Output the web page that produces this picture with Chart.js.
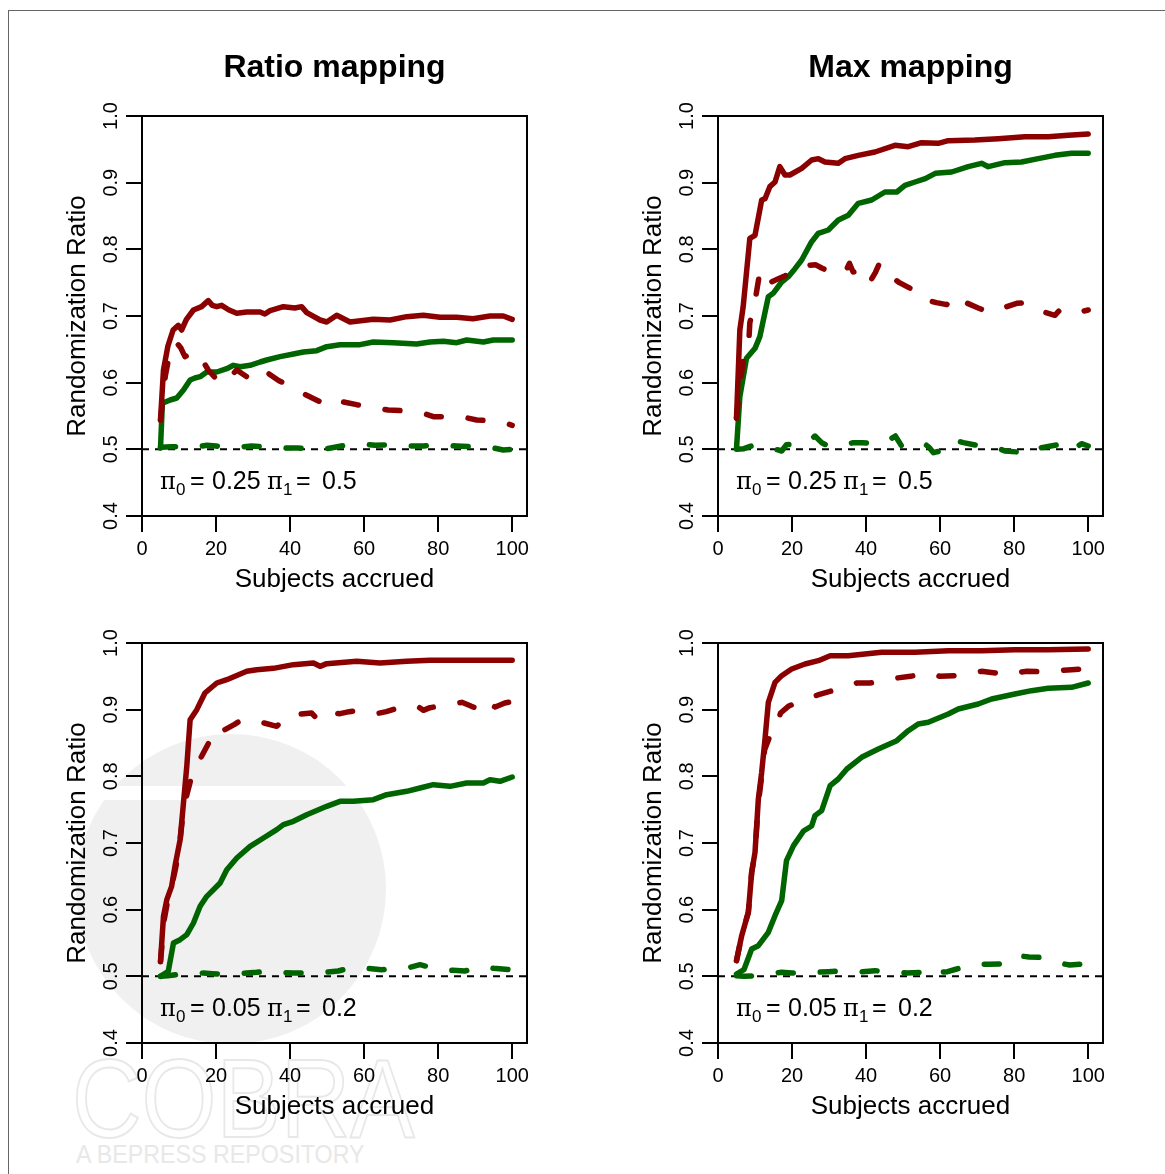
<!DOCTYPE html>
<html>
<head>
<meta charset="utf-8">
<script src="https://cdn.jsdelivr.net/npm/chart.js@4.4.1/dist/chart.umd.min.js"></script>
<style>
html,body{margin:0;padding:0;background:#fff;}
#stage{position:relative;width:1165px;height:1174px;overflow:hidden;background:#fff;}
.frame{position:absolute;left:8px;top:10px;width:1200px;height:1200px;border-top:1px solid #666;border-left:1px solid #666;}
.wm-disk{position:absolute;left:76px;top:734px;width:310px;height:310px;border-radius:50%;background:#f0f0f0;}
.wm-band{position:absolute;left:60px;top:786px;width:340px;height:14px;background:#fff;}
.wm-cobra{position:absolute;left:72px;top:1034px;font:112px 'Liberation Sans',Arial,sans-serif;color:transparent;-webkit-text-stroke:2px #e8e8e8;white-space:nowrap;transform-origin:0 0;transform:scaleX(0.86);}
.wm-sub{position:absolute;left:76px;top:1140px;font:25px 'Liberation Sans',Arial,sans-serif;color:#e8e8e8;white-space:nowrap;transform-origin:0 0;transform:scaleX(0.93);}
canvas{position:absolute;}
</style>
</head>
<body>
<div id="stage">
  <div class="frame"></div>
  <div class="wm-disk"></div>
  <div class="wm-band"></div>
  <div class="wm-cobra">COBRA</div>
  <div class="wm-sub">A BEPRESS REPOSITORY</div>
  <canvas id="c0"></canvas>
  <canvas id="c1"></canvas>
  <canvas id="c2"></canvas>
  <canvas id="c3"></canvas>
</div>
<script>
// ---------------- data ----------------
const xTicks = [0, 20, 40, 60, 80, 100];
const yTicks = [0.4, 0.5, 0.6, 0.7, 0.8, 0.9, 1.0];
const xRange = [0, 104];
const yRange = [0.4, 1.0];
const refLevel = 0.5;
const panelTitles = ['Ratio mapping', 'Max mapping'];
const pi0Values = ['0.25', '0.05'];
const pi1Values = ['0.5', '0.2'];
const xLabel = 'Subjects accrued';
const yLabel = 'Randomization Ratio';

// Ratio mapping, pi0 = 0.25, pi1 = 0.5
const ratio25_redSolid = [[5,0.544],[5.8,0.619],[7,0.655],[8.4,0.679],[9.8,0.686],[10.7,0.679],[12,0.695],[13.9,0.709],[16.1,0.714],[17.9,0.723],[19,0.716],[20.2,0.714],[21.5,0.716],[23.5,0.709],[25.6,0.704],[28.3,0.706],[31.9,0.706],[33.2,0.703],[34.6,0.708],[38.2,0.714],[41.3,0.712],[43.1,0.714],[44.5,0.705],[48.1,0.694],[49.9,0.691],[52.6,0.701],[56.2,0.691],[62.5,0.695],[67,0.694],[71.5,0.699],[76,0.701],[80.5,0.698],[85,0.698],[89.4,0.696],[94,0.700],[97.6,0.700],[100,0.695]];
const ratio25_redDash = [[5,0.544],[6.3,0.61],[7.5,0.645],[9.2,0.661],[10.5,0.652],[11.6,0.639],[13,0.643],[14.8,0.646],[16.5,0.632],[17.9,0.619],[20,0.606],[22.4,0.599],[24,0.61],[25.6,0.619],[28,0.61],[30.5,0.601],[32.5,0.608],[34.1,0.614],[37,0.603],[40.4,0.594],[44.5,0.581],[47.5,0.573],[50.3,0.565],[52,0.571],[54.4,0.571],[58,0.567],[61.1,0.564],[66.5,0.559],[70,0.558],[73.7,0.556],[76,0.554],[78.7,0.549],[82,0.549],[85.4,0.549],[88,0.547],[90.4,0.544],[94,0.543],[97.2,0.541],[100,0.536]];
const ratio25_greenSolid = [[5,0.502],[5.5,0.569],[7.6,0.574],[9.4,0.577],[11.2,0.589],[13,0.604],[14.3,0.607],[15.7,0.609],[17.5,0.616],[20.2,0.616],[22.9,0.621],[24.7,0.626],[26.5,0.624],[29.2,0.626],[31.9,0.631],[33.7,0.634],[37.3,0.639],[40.9,0.643],[43.6,0.646],[47.2,0.648],[49.9,0.654],[53.5,0.657],[58.9,0.657],[62.5,0.661],[67.9,0.660],[74.2,0.658],[77.8,0.661],[81.4,0.662],[85,0.660],[87.7,0.664],[92.2,0.661],[94.9,0.664],[100,0.664]];
const ratio25_greenDash = [[5,0.503],[8,0.504],[11,0.504],[14,0.503],[17.5,0.506],[20,0.505],[22.9,0.503],[26,0.503],[29.6,0.505],[33,0.504],[35.5,0.504],[39,0.502],[42.2,0.502],[45,0.501],[48.1,0.499],[51,0.502],[54.8,0.506],[57,0.508],[59.8,0.508],[63,0.506],[67,0.507],[70,0.506],[72.4,0.505],[76,0.505],[79.1,0.507],[82,0.506],[85,0.505],[89,0.504],[92.2,0.504],[95,0.502],[97.6,0.499],[100,0.5]];

// Max mapping, pi0 = 0.25, pi1 = 0.5
const max25_redSolid = [[5,0.547],[5.9,0.679],[6.8,0.714],[8.6,0.8165],[10,0.821],[11.8,0.874],[12.7,0.876],[14,0.894],[15.4,0.901],[16.7,0.924],[18.1,0.9115],[19.4,0.9115],[22.6,0.9215],[25.3,0.934],[27.1,0.936],[28.9,0.931],[32.5,0.929],[34.3,0.936],[37.9,0.941],[42.4,0.946],[47.8,0.956],[51.4,0.954],[55,0.960],[59.5,0.959],[62.2,0.963],[69.4,0.964],[75.7,0.966],[82.9,0.969],[89.2,0.969],[94.6,0.971],[100,0.973]];
const max25_redDash = [[5,0.547],[6,0.6],[7,0.64],[8.3,0.66],[8.6,0.69],[9.5,0.71],[10.2,0.729],[11,0.756],[12,0.745],[12.5,0.74],[13,0.752],[14,0.75],[16,0.755],[18,0.76],[19.5,0.764],[21,0.769],[23,0.775],[26.3,0.777],[28,0.772],[30.3,0.766],[32,0.768],[34.4,0.766],[35.5,0.779],[36.5,0.766],[38.7,0.770],[41,0.751],[42.5,0.765],[43.6,0.779],[46.3,0.761],[49,0.75],[52.8,0.739],[54.5,0.728],[56.4,0.724],[59,0.72],[61.8,0.717],[63.5,0.73],[64.5,0.729],[67,0.72],[70.3,0.712],[72.5,0.707],[74.8,0.706],[77.5,0.713],[80.7,0.719],[83,0.72],[85.2,0.714],[88,0.706],[91,0.701],[92.5,0.710],[94.2,0.706],[97,0.705],[100,0.709]];
const max25_greenSolid = [[5,0.5015],[5.9,0.579],[7.7,0.6365],[10,0.6515],[11.3,0.669],[13.6,0.729],[14.9,0.734],[17.2,0.751],[19,0.759],[20.8,0.771],[22.6,0.784],[25.3,0.8115],[27.1,0.824],[29.8,0.829],[32.5,0.844],[35.2,0.851],[37.9,0.869],[41.5,0.874],[45.1,0.886],[48.3,0.886],[50.5,0.896],[53.2,0.901],[56,0.906],[58.7,0.914],[63.1,0.916],[67.6,0.924],[71.2,0.929],[73,0.924],[77.5,0.930],[82,0.931],[86.5,0.936],[91,0.941],[95.5,0.944],[100,0.944]];
const max25_greenDash = [[5,0.500],[7,0.501],[8.5,0.504],[10,0.507],[12,0.505],[15,0.501],[17.2,0.4975],[18.5,0.507],[21.2,0.5075],[24,0.51],[26.2,0.52],[28,0.51],[29.8,0.505],[33,0.505],[36.6,0.51],[39,0.51],[41.5,0.5085],[45,0.51],[47.9,0.52],[49.6,0.505],[52,0.505],[55.5,0.51],[57,0.503],[58.2,0.495],[61,0.499],[63.6,0.5],[65,0.512],[66.3,0.51],[70,0.506],[73.5,0.505],[75.5,0.502],[77.5,0.4975],[81,0.496],[83.8,0.4925],[85.5,0.497],[87.4,0.5025],[91,0.506],[93.7,0.51],[96,0.5],[98.2,0.5085],[100,0.505]];

// Ratio mapping, pi0 = 0.05, pi1 = 0.2
const ratio05_redSolid = [[5,0.5225],[5.8,0.59],[6.7,0.615],[8,0.635],[8.9,0.665],[10.3,0.705],[11.2,0.76],[12.1,0.815],[13,0.885],[14.8,0.90],[17,0.925],[20.2,0.94],[22.9,0.945],[28.3,0.9575],[31,0.96],[35.5,0.962],[40.9,0.9675],[46.3,0.97],[48.1,0.965],[49.9,0.969],[58,0.9725],[64.3,0.97],[71.5,0.9725],[77.8,0.974],[85,0.974],[94,0.974],[100,0.974]];
const ratio05_redDash = [[5,0.522],[6,0.585],[7,0.615],[8,0.635],[9,0.66],[10,0.69],[11,0.74],[12,0.77],[13.4,0.80],[14.5,0.815],[16.1,0.83],[18,0.85],[19.3,0.857],[20.5,0.852],[22.4,0.87],[25,0.878],[27,0.885],[30.5,0.882],[33,0.88],[36.4,0.875],[39.1,0.89],[42,0.893],[45.8,0.895],[47,0.888],[48.5,0.898],[51,0.895],[53.5,0.894],[56,0.897],[58.4,0.899],[61,0.896],[63.4,0.894],[66,0.897],[68.3,0.901],[71,0.903],[74.2,0.906],[76,0.899],[77.8,0.903],[80,0.905],[81.9,0.906],[84,0.908],[86.4,0.911],[89,0.905],[91.8,0.899],[93,0.911],[95.4,0.904],[98,0.91],[100,0.912]];
const ratio05_greenSolid = [[5,0.5],[7.1,0.5075],[8.5,0.55],[10.3,0.555],[12.1,0.5625],[13.9,0.58],[15.7,0.605],[17.5,0.62],[21.1,0.64],[22.9,0.66],[25.6,0.6775],[29.2,0.695],[32.8,0.7075],[36.4,0.72],[38.2,0.7275],[40.9,0.7325],[44.5,0.7425],[49.9,0.755],[53.5,0.7625],[57.1,0.7625],[62.5,0.765],[66.1,0.7725],[71.5,0.7775],[75.1,0.7825],[78.7,0.7875],[83.2,0.785],[87.7,0.79],[92.2,0.79],[94,0.795],[96.7,0.7925],[100,0.799]];
const ratio05_greenDash = [[5,0.5],[7,0.501],[10,0.503],[13,0.503],[16.6,0.505],[19,0.504],[21.5,0.503],[25,0.504],[28.3,0.505],[31,0.506],[33.7,0.508],[37,0.506],[40.9,0.505],[43,0.505],[45.8,0.505],[49,0.506],[53,0.508],[55,0.511],[57.5,0.515],[61,0.512],[64.7,0.51],[67,0.511],[69.2,0.51],[72,0.513],[75.1,0.5175],[77.5,0.514],[80.1,0.51],[84,0.509],[87.2,0.508],[89.5,0.511],[91.8,0.515],[95,0.512],[99.4,0.51],[100,0.51]];

// Max mapping, pi0 = 0.05, pi1 = 0.2
const max05_redSolid = [[5,0.5235],[6.4,0.561],[8.2,0.596],[9.1,0.656],[10,0.686],[10.9,0.766],[11.8,0.806],[12.7,0.856],[13.6,0.911],[15.4,0.941],[17.2,0.951],[19.9,0.961],[23.5,0.9685],[27.1,0.9735],[30.3,0.981],[35.2,0.981],[44.2,0.986],[53.2,0.986],[62.2,0.9885],[71.2,0.9885],[80.2,0.99],[89.2,0.99],[100,0.991]];
const max05_redDash = [[5,0.5235],[6.4,0.561],[8.2,0.596],[9.1,0.656],[10,0.686],[10.9,0.76],[11.8,0.80],[12.6,0.84],[14,0.86],[15.4,0.87],[16.9,0.895],[19,0.905],[21,0.91],[22.7,0.9125],[25,0.918],[27.2,0.9225],[30,0.927],[33,0.932],[35,0.936],[37.5,0.94],[41,0.94],[44.2,0.9425],[46,0.946],[48.3,0.9475],[52,0.95],[55,0.954],[57,0.955],[60,0.95],[64,0.951],[67.2,0.952],[69,0.955],[71.2,0.9575],[75,0.955],[78.9,0.952],[81,0.956],[83.4,0.9575],[87,0.957],[90.6,0.9575],[93,0.959],[95.5,0.96],[98,0.961],[100,0.962]];
const max05_greenSolid = [[5,0.5035],[7,0.51],[9.1,0.541],[10.9,0.546],[13.6,0.566],[15.4,0.591],[17.2,0.6135],[18.5,0.6735],[20.4,0.696],[23.1,0.718],[25.3,0.7255],[26.2,0.741],[28,0.7485],[30.3,0.786],[32.5,0.796],[34.8,0.811],[38.8,0.8285],[43.3,0.841],[48.3,0.8535],[51.4,0.8685],[54.1,0.8785],[56.8,0.881],[62.2,0.8935],[64.9,0.901],[70.3,0.9085],[73.9,0.916],[80.2,0.9235],[84.7,0.9285],[89.2,0.932],[95.5,0.9335],[100,0.940]];
const max05_greenDash = [[5,0.501],[7,0.5],[10,0.501],[13,0.503],[17.2,0.506],[20,0.505],[22.6,0.505],[26,0.506],[29.8,0.507],[33,0.508],[35.2,0.5085],[39,0.507],[42.4,0.5085],[45,0.507],[47.8,0.506],[51,0.505],[54.6,0.506],[57,0.4985],[59.5,0.506],[62,0.507],[64.5,0.511],[67,0.515],[69,0.5185],[73,0.518],[76.6,0.5185],[79,0.522],[81.1,0.531],[84,0.529],[86.9,0.5285],[89,0.524],[91,0.521],[95,0.517],[98.2,0.5185],[98.7,0.506],[100,0.505]];

// ---------------- drawing ----------------
const RED = '#8b0000';
const GREEN = '#006400';
const FONT = "'Liberation Sans', Arial, Helvetica, sans-serif";
const SERIF = "'DejaVu Serif', 'Liberation Serif', serif";
Chart.defaults.font.family = FONT;
Chart.defaults.color = '#000';

const BOX_LEFT = [142, 718];
const BOX_TOP = [116, 643];
const BOX_W = 385, BOX_H = 400;
const PAD_L = 134, PAD_T = 106, PAD_R = 40, PAD_B = 94;

const panels = [
  {id:'c0', col:0, row:0, series:[ratio25_redSolid, ratio25_redDash, ratio25_greenSolid, ratio25_greenDash]},
  {id:'c1', col:1, row:0, series:[max25_redSolid, max25_redDash, max25_greenSolid, max25_greenDash]},
  {id:'c2', col:0, row:1, series:[ratio05_redSolid, ratio05_redDash, ratio05_greenSolid, ratio05_greenDash]},
  {id:'c3', col:1, row:1, series:[max05_redSolid, max05_redDash, max05_greenSolid, max05_greenDash]}
];

// annotation pieces: font, text, x offset from start, baseline shift
function drawAnno(ctx, x, base, pi0, pi1) {
  const main = '25px ' + FONT, sub = '17px ' + FONT, sym = '24px ' + SERIF;
  const segs = [
    [sym, '\u03C0', 0, 0],
    [sub, '0', 16, 6],
    [main, '=', 30, 0],
    [main, pi0, 52, 0],
    [sym, '\u03C0', 107, 0],
    [sub, '1', 123, 6],
    [main, '=', 136, 0],
    [main, pi1, 162, 0]
  ];
  ctx.textAlign = 'left';
  ctx.textBaseline = 'alphabetic';
  segs.forEach(([f, t, dx, dy]) => {
    ctx.font = f;
    ctx.fillText(t, x + dx, base + dy);
  });
}

const decoPlugin = {
  id: 'panelDeco',
  afterDraw(chart, args, opts) {
    const {ctx, chartArea: a, scales: {y}} = chart;
    ctx.save();
    ctx.strokeStyle = '#000';
    ctx.lineWidth = 2;
    ctx.strokeRect(a.left, a.top, a.right - a.left, a.bottom - a.top);
    ctx.fillStyle = '#000';
    ctx.font = '20px ' + FONT;
    ctx.textAlign = 'center';
    ctx.textBaseline = 'middle';
    yTicks.forEach(v => {
      const py = y.getPixelForValue(v);
      ctx.save();
      ctx.translate(a.left - 31, py);
      ctx.rotate(-Math.PI / 2);
      ctx.fillText(v.toFixed(1), 0, 0);
      ctx.restore();
    });
    if (opts.title) {
      ctx.font = 'bold 32px ' + FONT;
      ctx.textAlign = 'center';
      ctx.textBaseline = 'middle';
      ctx.fillText(opts.title, (a.left + a.right) / 2, a.top - 48);
    }
    drawAnno(ctx, a.left + 18, a.bottom - 27, opts.pi0, opts.pi1);
    ctx.restore();
  }
};

function lineSet(data, color, dashed) {
  return {
    data: data, borderColor: color, borderWidth: 5.5,
    borderDash: dashed ? [15, 27] : [],
    borderCapStyle: 'round', borderJoinStyle: 'round',
    pointRadius: 0, pointHoverRadius: 0, fill: false, tension: 0
  };
}

panels.forEach(p => {
  const cv = document.getElementById(p.id);
  cv.width = PAD_L + BOX_W + PAD_R;
  cv.height = PAD_T + BOX_H + PAD_B;
  cv.style.left = (BOX_LEFT[p.col] - PAD_L) + 'px';
  cv.style.top = (BOX_TOP[p.row] - PAD_T) + 'px';
  const refLine = [[xRange[0], refLevel], [xRange[1], refLevel]];
  new Chart(cv, {
    type: 'line',
    data: {
      datasets: [
        lineSet(p.series[0], RED, false),
        lineSet(p.series[1], RED, true),
        lineSet(p.series[2], GREEN, false),
        lineSet(p.series[3], GREEN, true),
        {data: refLine, borderColor: '#000', borderWidth: 2, borderDash: [7, 6],
         pointRadius: 0, pointHoverRadius: 0, fill: false, tension: 0}
      ]
    },
    options: {
      responsive: false, animation: false, events: [],
      layout: {padding: {left: 0, top: PAD_T, right: PAD_R, bottom: 0}},
      plugins: {
        legend: {display: false},
        tooltip: {enabled: false},
        panelDeco: {
          title: p.row === 0 ? panelTitles[p.col] : '',
          pi0: pi0Values[p.row], pi1: pi1Values[p.row]
        }
      },
      scales: {
        x: {
          type: 'linear', min: xRange[0], max: xRange[1],
          afterFit: s => { s.height = PAD_B; },
          afterBuildTicks: s => { s.ticks = xTicks.map(v => ({value: v})); },
          grid: {drawOnChartArea: false, drawTicks: true, tickLength: 16, color: '#000', lineWidth: 2},
          border: {display: false},
          ticks: {color: '#000', font: {family: FONT, size: 20}, padding: 5, maxRotation: 0, minRotation: 0, autoSkip: false},
          title: {display: true, text: xLabel, color: '#000', font: {family: FONT, size: 26}, padding: {top: 0, bottom: 14.4}}
        },
        y: {
          type: 'linear', min: yRange[0], max: yRange[1],
          afterFit: s => { s.width = PAD_L; },
          afterBuildTicks: s => { s.ticks = yTicks.map(v => ({value: v})); },
          grid: {drawOnChartArea: false, drawTicks: true, tickLength: 16, color: '#000', lineWidth: 2},
          border: {display: false},
          ticks: {display: false},
          title: {display: true, text: yLabel, color: '#000', font: {family: FONT, size: 26}, padding: {top: 54.4, bottom: 0}}
        }
      }
    },
    plugins: [decoPlugin]
  });
});
</script>
</body>
</html>
